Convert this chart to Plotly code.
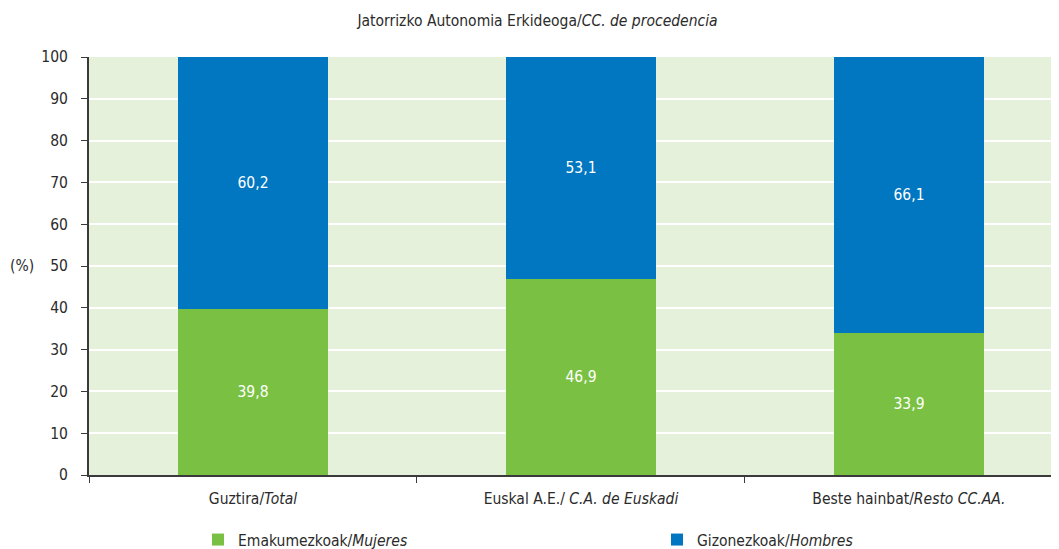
import plotly.graph_objects as go

categories = ["Guztira/<i>Total</i>", "Euskal A.E./ <i>C.A. de Euskadi</i>", "Beste hainbat/<i>Resto CC.AA.</i>"]
mujeres = [39.8, 46.9, 33.9]
hombres = [60.2, 53.1, 66.1]
series_names = ["Emakumezkoak/<i>Mujeres</i>", "Gizonezkoak/<i>Hombres</i>"]
colors = ["#7AC143", "#0077C0"]

FONT = "DejaVu Sans Condensed, Liberation Sans Narrow, sans-serif"
TXT = "#2b2b2b"
FS = 15.5

def fmt(v):
    return f"{v:.1f}".replace(".", ",")

fig = go.Figure()
for i, (name, vals, col) in enumerate([(series_names[0], mujeres, colors[0]), (series_names[1], hombres, colors[1])]):
    fig.add_trace(go.Bar(
        x=categories, y=vals, name=name, marker_color=col, marker_line_width=0,
        width=0.457, text=[fmt(v) for v in vals], textposition="inside",
        insidetextanchor="middle", textfont=dict(color="white", size=FS, family=FONT),
        legend="legend" if i == 0 else "legend2", showlegend=True,
    ))

leg_common = dict(orientation="h", xref="container", yref="container", yanchor="middle",
                  font=dict(size=FS, family=FONT, color=TXT), bgcolor="rgba(0,0,0,0)", visible=True)
fig.update_layout(
    showlegend=True,
    barmode="stack",
    width=1059, height=549,
    margin=dict(l=81, r=0, t=49, b=82, autoexpand=False),
    plot_bgcolor="#E6F1DC",
    paper_bgcolor="white",
    font=dict(family=FONT, size=FS, color=TXT),
    title=dict(text="Jatorrizko Autonomia Erkideoga/<i>CC. de procedencia</i>", x=0.5, xanchor="center",
               y=0.978, yanchor="middle", font=dict(size=FS, family=FONT, color=TXT)),
    legend=dict(x=190/1059, y=0.031, xanchor="left", **leg_common),
    legend2=dict(x=649/1059, y=0.031, xanchor="left", **leg_common),
    bargap=0,
)
fig.update_xaxes(range=[-0.5, 2.482], showline=True, linecolor="#3a3a3a", linewidth=2,
                 ticks="outside", tickson="boundaries", ticklen=6, tickcolor="#3a3a3a",
                 showgrid=False, ticklabelstandoff=8,
                 tickfont=dict(size=FS, family=FONT, color=TXT))
fig.update_yaxes(range=[0, 100], dtick=10, showline=True, linecolor="#3a3a3a", linewidth=2,
                 ticks="outside", ticklen=6, tickcolor="#3a3a3a", gridcolor="white", gridwidth=2,
                 zeroline=False, ticklabelstandoff=10,
                 tickfont=dict(size=FS, family=FONT, color=TXT))
fig.add_annotation(text="(%)", x=-0.0685, y=50, xref="paper", yref="y", xanchor="center",
                   showarrow=False, font=dict(size=FS, family=FONT, color=TXT))

fig.write_html("out.html")
